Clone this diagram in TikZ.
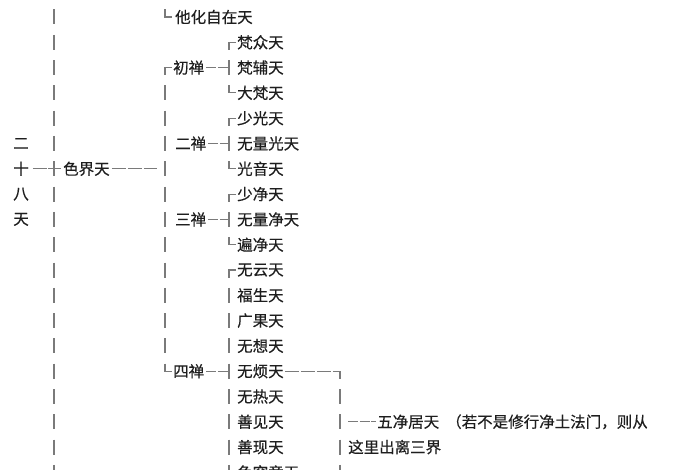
\documentclass[tikz,border=0pt]{standalone}
\usepackage{fontspec}
\newfontfamily\cjk[FakeBold=0.35]{Noto Sans CJK SC}
\definecolor{txt}{HTML}{1E1E1E}
\definecolor{ln}{HTML}{7A7A7A}
\begin{document}
\begin{tikzpicture}[x=1pt,y=-1pt,
  lbl/.style={anchor=west,inner sep=0pt,font=\cjk\fontsize{15.5}{16}\selectfont,text=txt},
  lch/.style={anchor=center,inner sep=0pt,font=\cjk\fontsize{15.5}{16}\selectfont,text=txt},
  ln/.style={draw=ln,line width=1.1pt},
  hd/.style={ln,dash pattern=on 10pt off 1.5pt},
  hd3/.style={ln,dash pattern=on 14pt off 2pt}]
\useasboundingbox[fill=white] (0,0) rectangle (700,470);
% rows
\def\ry#1{\fpeval{17+25.3*#1}}
% ---- left column ----
\foreach \c/\r in {二/5,十/6,八/7,天/8}{
  \node[lch] (L\r) at (21,\ry{\r}) {\c};
}
% bar x=54
\foreach \r in {0,...,18}{
  \draw[ln] (54,\ry{\r}-7.5) -- (54,\ry{\r}+7.5);
}
\coordinate (c54) at (54,\ry{6});
\draw[ln] (L6.east)++(4,0) -- (47,\ry{6});
\draw[ln] (48,\ry{6}) -- (61,\ry{6});
\node[lbl] (se) at (63,\ry{6}) {色界天};
\coordinate (se2) at (157,\ry{6});
\draw[hd3] (se.east)++(2,0) -- (se2);
% bar x=165
\draw[ln] (165,\ry{0}-7.5) -- (165,\ry{0}) -- (172,\ry{0});
\node[lbl] (tahua) at (175,\ry{0}) {他化自在天};
\foreach \r in {3,...,13}{
  \draw[ln] (165,\ry{\r}-7.5) -- (165,\ry{\r}+7.5);
}
\draw[ln] (172,\ry{2}) -- (165,\ry{2}) -- (165,\ry{2}+7.5);
\draw[ln] (165,\ry{14}-7.5) -- (165,\ry{14}) -- (172,\ry{14});
\node[lbl] (c1) at (173,\ry{2}) {初禅};
\node[lbl] (c2) at (175,\ry{5}) {二禅};
\node[lbl] (c3) at (175,\ry{8}) {三禅};
\node[lbl] (c4) at (173,\ry{14}) {四禅};
\foreach \n/\r in {c1/2,c2/5,c3/8,c4/14}{
  \coordinate (j\r) at (229,\ry{\r});
  \draw[hd] (\n.east)++(2,0) -- (j\r);
}
% sub column x=229
\foreach \r in {2,5,8,11,12,13,14,15,16,17,18}{
  \draw[ln] (229,\ry{\r}-7.5) -- (229,\ry{\r}+7.5);
}
\foreach \r in {1,4,7,10}{
  \draw[ln] (236,\ry{\r}) -- (229,\ry{\r}) -- (229,\ry{\r}+7.5);
}
\foreach \r in {3,6,9}{
  \draw[ln] (229,\ry{\r}-7.5) -- (229,\ry{\r}) -- (236,\ry{\r});
}
\foreach \t/\r in {梵众天/1,梵辅天/2,大梵天/3,少光天/4,无量光天/5,光音天/6,少净天/7,无量净天/8,遍净天/9,无云天/10,福生天/11,广果天/12,无想天/13,无烦天/14,无热天/15,善见天/16,善现天/17,色究竟天/18}{
  \node[lbl] (t\r) at (237,\ry{\r}) {\t};
}
% right bracket x=340
\coordinate (k14) at (340,\ry{14});
\draw[hd3] (t14.east)++(1,0) -- (338,\ry{14});
\draw[ln] (334,\ry{14}) -- (k14) -- (340,\ry{14}+8);
\foreach \r in {15,16,17}{
  \draw[ln] (340,\ry{\r}-7.5) -- (340,\ry{\r}+7.5);
}
\coordinate (k18) at (340,\ry{18});
\draw[hd3] (t18.east)++(2,-2) -- (336,\ry{18}-2);
\draw[ln] (340,\ry{18}-7.5) -- (k18);
\coordinate (d16) at (348,\ry{16});
\node[lbl] (wu) at (377,\ry{16}) {五净居天\hspace{7pt}（若不是修行净土法门，则从};
\draw[hd] (d16) -- ([xshift=-1pt]wu.west);
\node[lbl] (zheli) at (348,\ry{17}) {这里出离三界};
\end{tikzpicture}
\end{document}
